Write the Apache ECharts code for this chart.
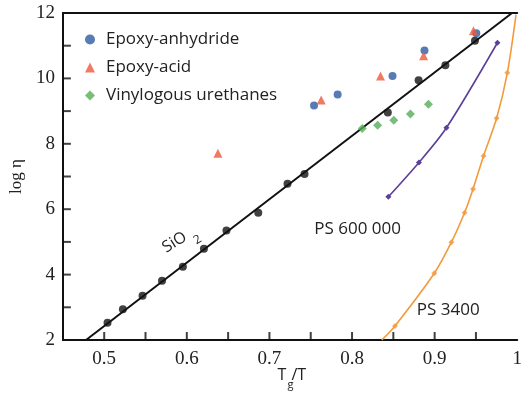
<!DOCTYPE html>
<html><head><meta charset="utf-8">
<script src="https://cdn.jsdelivr.net/npm/echarts@6/dist/echarts.min.js"></script>
<style>html,body{margin:0;padding:0;background:#fff}#c{width:525px;height:399px}</style>
</head><body><div id="c"></div>
<script>
// Viscosity (log η) versus reduced inverse temperature Tg/T
const sio2Points = [[0.504,2.53],[0.5226,2.94],[0.5464,3.35],[0.570,3.81],[0.5952,4.24],[0.6207,4.79],[0.648,5.35],[0.6865,5.89],[0.7219,6.78],[0.7425,7.08],[0.8433,8.96],[0.8806,9.94],[0.913,10.40],[0.9488,11.15]];
const sio2Fit = [[0.478,2],[0.9937,12]];
const epoxyAnhydride = [[0.754,9.17],[0.7826,9.51],[0.849,10.07],[0.8877,10.85],[0.9504,11.38]];
const epoxyAcid = [[0.6377,7.71],[0.7627,9.34],[0.8345,10.07],[0.8866,10.69],[0.947,11.46]];
const vinylogousUrethanes = [[0.8124,8.47],[0.831,8.57],[0.8505,8.72],[0.8707,8.91],[0.8925,9.21]];
const ps600k = [[0.844,6.38],[0.881,7.43],[0.9143,8.49],[0.976,11.09]];
const ps3400Markers = [[0.852,2.43],[0.8996,4.04],[0.9203,4.99],[0.9362,5.89],[0.9465,6.62],[0.9592,7.63],[0.975,8.78],[0.988,10.17]];
const ps3400Curve = [[0.836,2]].concat(ps3400Markers, [[0.9985,11.95]]);
const xTicks = [0.5,0.6,0.7,0.8,0.9,1];
const yTicks = [2,4,6,8,10,12];
const xTickMarks = [0.5,0.55,0.6,0.65,0.7,0.75,0.8,0.85,0.9,0.95];
const yTickMarks = [3,4,5,6,7,8,9,10,11];

const xMin = 0.45, xMax = 1.0, yMin = 2, yMax = 12;
const serif = '"Liberation Serif", "DejaVu Serif", serif';
const sans = '"Open Sans", "Noto Sans", sans-serif';
const near = (v, arr) => arr.some(t => Math.abs(t - v) < 1e-6);

const axisLineStyle = () => ({show: true, onZero: false, lineStyle: {color: '#111', width: 2}});
const tickLen = 8;

const chart = echarts.init(document.getElementById('c'));
chart.setOption({
  animation: false,
  grid: {left: 61, top: 13, right: 1, bottom: 59},
  legend: {
    orient: 'vertical', left: 80, top: 25, itemGap: 9, itemWidth: 10, itemHeight: 10,
    data: ['Epoxy-anhydride', 'Epoxy-acid', 'Vinylogous urethanes'],
    textStyle: {fontFamily: sans, fontSize: 17, color: '#222', lineHeight: 19, padding: [0,0,0,6]}
  },
  xAxis: [{
    type: 'value', min: xMin, max: xMax, interval: 0.05, position: 'bottom',
    splitLine: {show: false},
    axisLine: axisLineStyle(),
    axisTick: {show: false},
    axisLabel: {
      show: true, margin: 10, color: '#222', fontFamily: serif, fontSize: 19,
      showMaxLabel: true,
      formatter: v => near(v, xTicks) ? (Math.abs(v - 1) < 1e-6 ? '1' : v.toFixed(1)) : ''
    }
  }, {
    // plain frame line along the top edge
    type: 'value', min: xMin, max: xMax, position: 'top',
    splitLine: {show: false}, axisTick: {show: false}, axisLabel: {show: false},
    axisLine: axisLineStyle()
  }],
  yAxis: {
    type: 'value', min: yMin, max: yMax, interval: 1,
    name: 'log η', nameLocation: 'middle', nameGap: 31,
    nameTextStyle: {fontFamily: serif, fontSize: 17, color: '#222'},
    splitLine: {show: false},
    axisLine: axisLineStyle(),
    axisTick: {show: false},
    axisLabel: {
      show: true, margin: 8, color: '#222', fontFamily: serif, fontSize: 19,
      formatter: v => near(v, yTicks) ? String(v) : ''
    }
  },
  series: [
    // inward tick marks along the bottom and left axes
    {name: 'x ticks', type: 'scatter', silent: true, clip: false, z: 6,
     data: xTickMarks.map(v => [v, yMin]), symbol: 'rect', symbolSize: [2, tickLen], symbolOffset: [0, -tickLen / 2],
     itemStyle: {color: '#111'}},
    {name: 'y ticks', type: 'scatter', silent: true, clip: false, z: 6,
     data: yTickMarks.map(v => [xMin, v]), symbol: 'rect', symbolSize: [tickLen, 2], symbolOffset: [tickLen / 2, 0],
     itemStyle: {color: '#111'}},
    {name: 'SiO2 fit', type: 'line', data: sio2Fit, showSymbol: false, lineStyle: {color: '#111', width: 2}, z: 2},
    {name: 'SiO2', type: 'scatter', data: sio2Points, symbol: 'circle', symbolSize: 8, itemStyle: {color: '#111'}, z: 3},
    {name: 'PS 600 000', type: 'line', data: ps600k, smooth: 0.3, symbol: 'diamond', symbolSize: 6, lineStyle: {color: '#5b3f98', width: 1.6}, itemStyle: {color: '#5b3f98'}},
    {name: 'PS 3400 curve', type: 'line', data: ps3400Curve, smooth: 0.3, showSymbol: false, lineStyle: {color: '#f39a3c', width: 1.6}},
    {name: 'PS 3400', type: 'scatter', data: ps3400Markers, symbol: 'diamond', symbolSize: 6, itemStyle: {color: '#f39a3c'}},
    {name: 'Epoxy-anhydride', type: 'scatter', data: epoxyAnhydride, symbol: 'circle', symbolSize: 8, itemStyle: {color: '#2d5aa0'}, z: 4},
    {name: 'Epoxy-acid', type: 'scatter', data: epoxyAcid, symbol: 'triangle', symbolSize: 9, itemStyle: {color: '#ec5a3c'}, z: 4},
    {name: 'Vinylogous urethanes', type: 'scatter', data: vinylogousUrethanes, symbol: 'diamond', symbolSize: 9, itemStyle: {color: '#56ad57'}, z: 4}
  ]
});

// In-plot annotations, positioned through the axis scales
const px = p => chart.convertToPixel({xAxisIndex: 0, yAxisIndex: 0}, p);
const sioAt = px([0.5723, 4.78]);
const ps6At = px([0.8068, 5.4]);
const ps34At = px([0.9165, 2.9]);
const tgAt = [chart.getWidth() / 2 + 30, 375];

chart.setOption({
  graphic: [
    {type: 'group', x: sioAt[0], y: sioAt[1], rotation: 0.56, children: [
      {type: 'text', x: 0, y: 0, style: {text: 'SiO', font: '16px ' + sans, fill: '#222', textAlign: 'left', textVerticalAlign: 'middle'}},
      {type: 'text', x: 30, y: 10, style: {text: '2', font: '12px ' + sans, fill: '#222', textAlign: 'left', textVerticalAlign: 'middle'}}
    ]},
    {type: 'text', x: ps6At[0], y: ps6At[1], style: {text: 'PS 600 000', font: '17px ' + sans, fill: '#222', textAlign: 'center', textVerticalAlign: 'middle'}},
    {type: 'text', x: ps34At[0], y: ps34At[1], style: {text: 'PS 3400', font: '17px ' + sans, fill: '#222', textAlign: 'center', textVerticalAlign: 'middle'}},
    {type: 'group', x: tgAt[0], y: tgAt[1], children: [
      {type: 'text', x: -15, y: 0, style: {text: 'T', font: '16px ' + sans, fill: '#222', textAlign: 'left', textVerticalAlign: 'middle'}},
      {type: 'text', x: -5, y: 10, style: {text: 'g', font: '11px ' + sans, fill: '#222', textAlign: 'left', textVerticalAlign: 'middle'}},
      {type: 'text', x: -1, y: 0, style: {text: '/T', font: '16px ' + sans, fill: '#222', textAlign: 'left', textVerticalAlign: 'middle'}}
    ]}
  ]
});
</script>
</body></html>
